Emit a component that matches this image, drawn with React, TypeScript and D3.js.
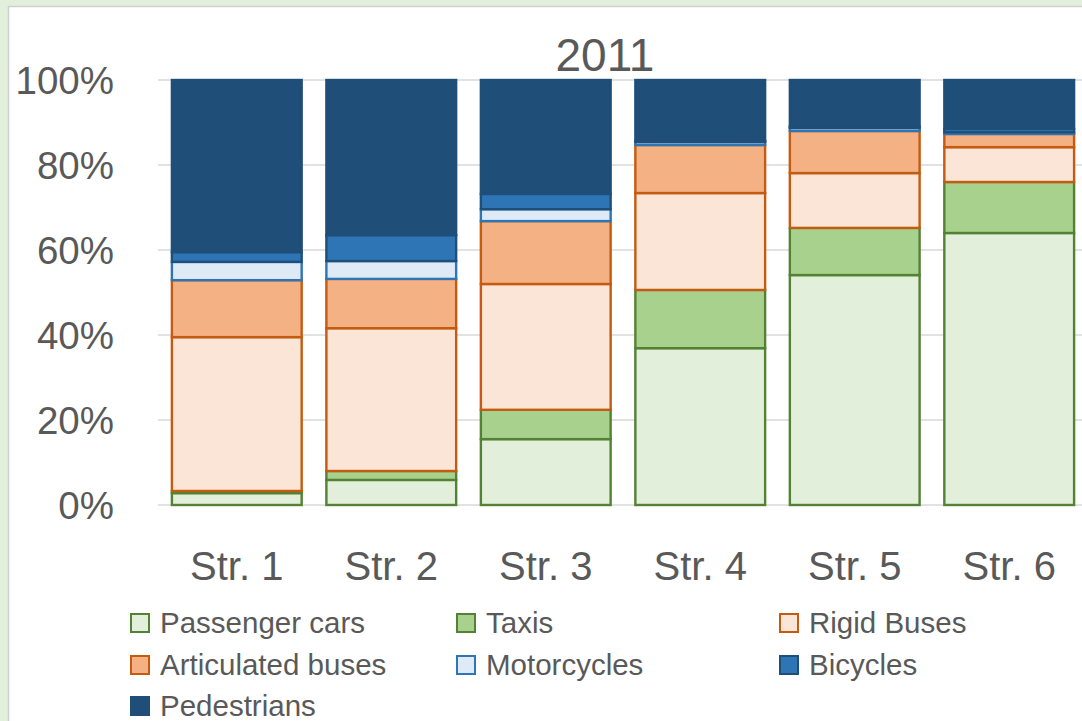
import React from "react";
import * as d3 from "d3";

const categories = ["Str. 1", "Str. 2", "Str. 3", "Str. 4", "Str. 5", "Str. 6"];
const seriesNames = [
  "Passenger cars",
  "Taxis",
  "Rigid Buses",
  "Articulated buses",
  "Motorcycles",
  "Bicycles",
  "Pedestrians",
];
const passengerCars = [2.8, 5.9, 15.5, 36.9, 54.1, 64.0];
const taxis = [0.5, 2.1, 6.9, 13.7, 11.1, 12.0];
const rigidBuses = [36.2, 33.6, 29.6, 22.8, 12.9, 8.2];
const articulatedBuses = [13.4, 11.6, 14.8, 11.3, 9.9, 3.1];
const motorcycles = [4.3, 4.2, 2.8, 0.7, 0.7, 0.4];
const bicycles = [2.3, 6.1, 3.6, 0.3, 0.4, 0.8];
const pedestrians = [40.5, 36.5, 26.8, 14.3, 10.9, 11.5];
const yTicks = [0, 20, 40, 60, 80, 100];
const title = "2011";

const seriesValues = [passengerCars, taxis, rigidBuses, articulatedBuses, motorcycles, bicycles, pedestrians];
const fills = ["#e2efda", "#a9d18e", "#fbe5d6", "#f4b183", "#deebf7", "#2e75b6", "#1f4e79"];
const strokes = ["#548235", "#548235", "#c55a11", "#c55a11", "#2e75b6", "#1f4e79", "#1f4e79"];

const FONT = "'Liberation Sans', Arial, sans-serif";
const TEXT = "#595959";

export default function App() {
  const W = 1082, H = 721;
  const plotTop = 80, plotBottom = 505, plotLeft = 158, plotRight = 1088;
  const x = d3.scaleBand<string>().domain(categories).range([plotLeft, plotRight]).paddingInner(0.16).paddingOuter(0.09);
  const y = d3.scaleLinear().domain([0, 100]).range([plotBottom, plotTop]);

  const table = categories.map((c, i) => {
    const row: any = { cat: c };
    seriesNames.forEach((s, j) => (row[s] = seriesValues[j][i]));
    return row;
  });
  const stacked = d3.stack<any>().keys(seriesNames).offset(d3.stackOffsetExpand)(table);

  const legendCols = [130, 456, 779];
  const legendRows = [623, 665, 706];

  return (
    <svg width={W} height={H} style={{ position: "absolute", left: 0, top: 0 }}>
      <rect x={0} y={0} width={W} height={H} fill="#e2efda" />
      <rect x={8.5} y={6.5} width={W} height={H} fill="#ffffff" stroke="#d0d0d0" strokeWidth={1.5} />
      <text x={605} y={71} textAnchor="middle" fontFamily={FONT} fontSize={46} fill={TEXT}>{title}</text>
      {yTicks.map((t) => (
        <g key={t}>
          <line x1={plotLeft} x2={plotRight} y1={y(t)} y2={y(t)} stroke="#d9d9d9" strokeWidth={1.5} />
          <text x={114} y={y(t) + 14} textAnchor="end" fontFamily={FONT} fontSize={38.5} fill={TEXT}>{t}%</text>
        </g>
      ))}
      {stacked.map((layer, j) => (
        <g key={layer.key}>
          {layer.map((d, i) => {
            const y0 = y(d[0] * 100), y1 = y(d[1] * 100);
            return (
              <rect key={i} x={x(categories[i])!} y={y1} width={x.bandwidth()} height={Math.max(0, y0 - y1)}
                fill={fills[j]} stroke={strokes[j]} strokeWidth={2.4} />
            );
          })}
        </g>
      ))}
      {categories.map((c) => (
        <text key={c} x={x(c)! + x.bandwidth() / 2} y={580} textAnchor="middle" fontFamily={FONT} fontSize={40} fill={TEXT}>{c}</text>
      ))}
      {seriesNames.map((s, j) => {
        const cx = legendCols[j % 3], cy = legendRows[Math.floor(j / 3)];
        return (
          <g key={s}>
            <rect x={cx + 1} y={cy - 9} width={18} height={18} fill={fills[j]} stroke={strokes[j]} strokeWidth={2} />
            <text x={cx + 30} y={cy + 10} fontFamily={FONT} fontSize={29.5} fill={TEXT}>{s}</text>
          </g>
        );
      })}
    </svg>
  );
}
